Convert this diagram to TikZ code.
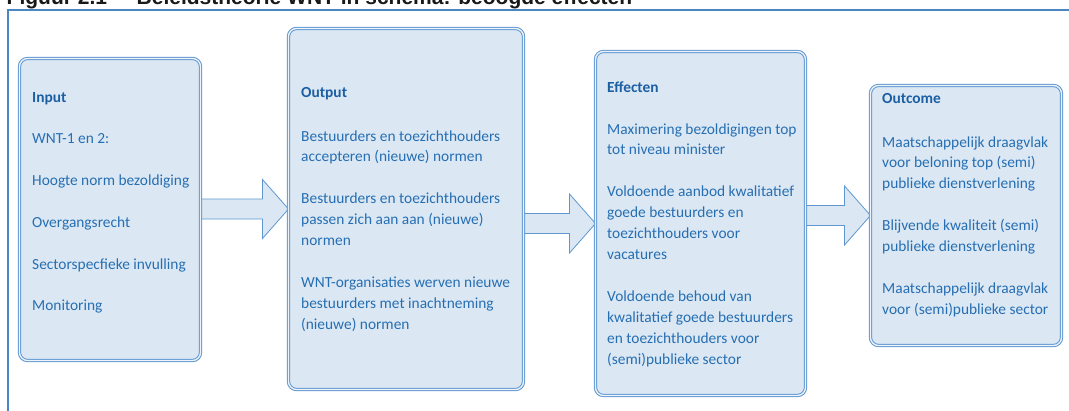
\documentclass[tikz,border=0pt]{standalone}
\usepackage{fontspec}
\setmainfont{Carlito}
\newfontfamily\titlefont{Liberation Sans}
\usetikzlibrary{calc,backgrounds}

\definecolor{framec}{HTML}{4A86C4}
\definecolor{boxfill}{HTML}{DBE8F4}
\definecolor{boxline}{HTML}{5F97D0}
\definecolor{boxgap}{HTML}{EEF4FA}
\definecolor{arrowline}{HTML}{5E97D0}
\definecolor{bodytext}{HTML}{266EB2}
\definecolor{headtext}{HTML}{1C5FA3}

% top-aligned text block: its baseline is that of its first line
\newcommand{\stagelines}[1]{\parbox[t]{260pt}{\raggedright #1}}

\tikzset{
  stagebox/.style={draw=boxline, line width=1pt, double=boxgap,
    double distance=1.3pt, fill=boxfill, rounded corners=8pt,
    inner sep=0pt, outer sep=0pt},
  heading/.style={anchor=base west, inner sep=0pt, text=headtext,
    font=\fontsize{15.4}{20.95}\selectfont\bfseries},
  bodytxt/.style={anchor=base west, inner sep=0pt, text=bodytext,
    font=\fontsize{15.4}{20.95}\selectfont},
  blockarrow/.style={draw=arrowline, line width=0.8pt, fill=boxfill, line join=miter},
  titletxt/.style={anchor=base west, inner sep=0pt, text=black!90,
    font=\titlefont\fontsize{21}{25}\selectfont\bfseries}
}

\begin{document}
\begin{tikzpicture}[x=1pt, y=-1pt]
\useasboundingbox (0,0) rectangle (1069,410);
\clip (0,0) rectangle (1069,410);

% caption line above the frame
\node[titletxt] (cap1) at (6.5,4.3) {Figuur 2.1};
\node[titletxt] (cap2) at (136.5,4.3) {Beleidstheorie WNT in schema: beoogde effecten};

% surrounding frame
\draw[framec, line width=1.1pt] (8,430) -- (8,10) -- (1090,10);

% the four stages
\node[stagebox, minimum width=181pt, minimum height=302pt] (inp) at (110,209.5) {};
\node[stagebox, minimum width=235pt, minimum height=361pt] (outp) at (406,209) {};
\node[stagebox, minimum width=210pt, minimum height=344pt] (eff) at (700.5,223.5) {};
\node[stagebox, minimum width=191pt, minimum height=260pt] (outc) at (966,215.5) {};

% block arrows between the stages
\begin{scope}[on background layer]
\foreach \a/\b in {inp/outp, outp/eff, eff/outc}{
  \draw[blockarrow]
    ($(\a.east |- \b.west)+(0,-10)$) -- ($(\b.west)+(-26,-10)$)
    -- ($(\b.west)+(-26,-29.5)$) -- (\b.west)
    -- ($(\b.west)+(-26,29.5)$) -- ($(\b.west)+(-26,10)$)
    -- ($(\a.east |- \b.west)+(0,10)$);
}
\end{scope}

% Input
\node[heading] (inph) at (32,102.7) {Input};
\node[bodytxt] (inpt) at (32,143.3) {\stagelines{WNT-1 en 2:\\[20.95pt]
Hoogte norm bezoldiging\\[20.95pt]
Overgangsrecht\\[20.95pt]
Sectorspecfieke invulling\\[20.95pt]
Monitoring}};

% Output
\node[heading] (outph) at (301,97) {Output};
\node[bodytxt] (outpt) at (301,141) {\stagelines{Bestuurders en toezichthouders\\
accepteren (nieuwe) normen\\[20.95pt]
Bestuurders en toezichthouders\\
passen zich aan aan (nieuwe)\\
normen\\[20.95pt]
WNT-organisaties werven nieuwe\\
bestuurders met inachtneming\\
(nieuwe) normen}};

% Effecten
\node[heading] (effh) at (607,92) {Effecten};
\node[bodytxt] (efft) at (607,134) {\stagelines{Maximering bezoldigingen top\\
tot niveau minister\\[20.95pt]
Voldoende aanbod kwalitatief\\
goede bestuurders en\\
toezichthouders voor\\
vacatures\\[20.95pt]
Voldoende behoud van\\
kwalitatief goede bestuurders\\
en toezichthouders voor\\
(semi)publieke sector}};

% Outcome
\node[heading] (outch) at (882,103) {Outcome};
\node[bodytxt] (outct) at (882,147) {\stagelines{Maatschappelijk draagvlak\\
voor beloning top (semi)\\
publieke dienstverlening\\[20.95pt]
Blijvende kwaliteit (semi)\\
publieke dienstverlening\\[20.95pt]
Maatschappelijk draagvlak\\
voor (semi)publieke sector}};
\end{tikzpicture}
\end{document}
